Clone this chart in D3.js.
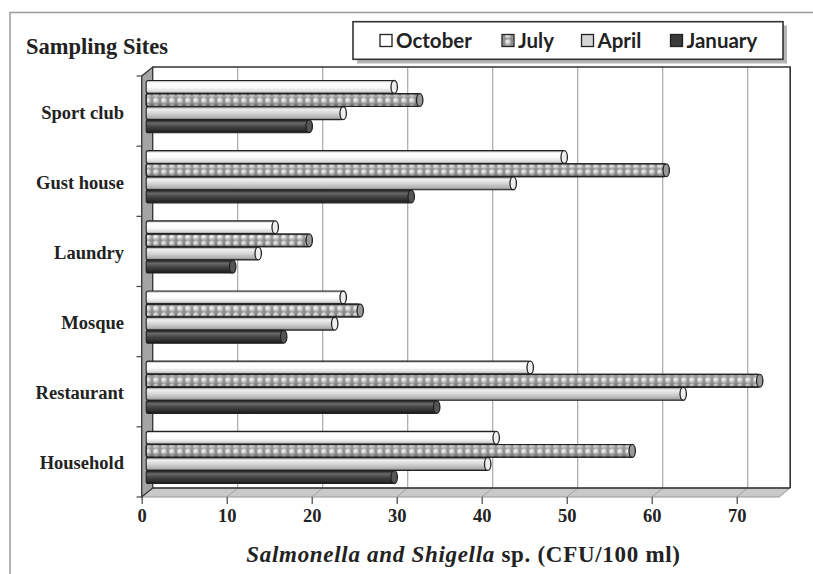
<!DOCTYPE html>
<html><head><meta charset="utf-8">
<script src="https://cdn.jsdelivr.net/npm/d3@7"></script>
<style>body{margin:0;background:#fff}svg{display:block}</style>
</head><body>
<svg id="c" width="813" height="574"></svg>
<script>
const sites = ["Sport club","Gust house","Laundry","Mosque","Restaurant","Household"];
const seriesNames = ["October","July","April","January"];
const october = [30,50,16,24,46,42];
const july    = [33,62,20,26,73,58];
const april   = [24,44,14,23,64,41];
const january = [20,32,11,17,35,30];
const xTicks = [0,10,20,30,40,50,60,70];
const yTitle = "Sampling Sites";
const xTitleItalic = "Salmonella and Shigella";
const xTitleRest = " sp. (CFU/100 ml)";

const seriesValues = {October: october, July: july, April: april, January: january};

const svg = d3.select("#c");
const defs = svg.append("defs");

// figure border
svg.append("path").attr("d","M10,574V12.5H813").attr("fill","none").attr("stroke","#9a9a9a").attr("stroke-width",1.5);

const DX = 11, DY = -9;
const x = d3.scaleLinear().domain([0,75]).range([141.7,779.2]);
const y = d3.scaleBand().domain(sites).range([76,497]);
const sub = d3.scaleBand().domain(seriesNames).range([0,52.5]);

function grad(id, stops){
  const g = defs.append("linearGradient").attr("id",id).attr("x1",0).attr("x2",0).attr("y1",0).attr("y2",1);
  stops.forEach(s=>g.append("stop").attr("offset",s[0]).attr("stop-color",s[1]).attr("stop-opacity",s[2]===undefined?1:s[2]));
}
grad("gOct",[[0,"#9a9a9a"],[0.18,"#ffffff"],[0.55,"#fbfbfb"],[0.85,"#d8d8d8"],[1,"#8a8a8a"]]);
grad("gApr",[[0,"#8c8c8c"],[0.2,"#f0f0f0"],[0.5,"#d6d6d6"],[0.85,"#b0b0b0"],[1,"#707070"]]);
grad("gJan",[[0,"#1c1c1c"],[0.25,"#6a6a6a"],[0.5,"#474747"],[0.85,"#2a2a2a"],[1,"#111"]]);
grad("gJulShade",[[0,"#000",0.4],[0.2,"#fff",0.15],[0.5,"#fff",0],[0.85,"#000",0.12],[1,"#000",0.45]]);
const rg = defs.append("radialGradient").attr("id","dotG").attr("cx","40%").attr("cy","35%").attr("r","60%");
rg.append("stop").attr("offset",0).attr("stop-color","#f8f8f8");
rg.append("stop").attr("offset",1).attr("stop-color","#b0b0b0");
const pat = defs.append("pattern").attr("id","pJul").attr("patternUnits","userSpaceOnUse").attr("width",8).attr("height",6.5);
pat.append("rect").attr("width",8).attr("height",6.5).attr("fill","#8e8e8e");
pat.append("circle").attr("cx",4).attr("cy",3.25).attr("r",3).attr("fill","url(#dotG)");
const fills = {October:"url(#gOct)", July:"url(#pJul)", April:"url(#gApr)", January:"url(#gJan)"};
const legendFill = {October:"#ffffff", July:"url(#pJul)", April:"#d4d4d4", January:"#3a3a3a"};

// back wall
const bx0 = x(0)+DX, bx1 = x(75)+DX, by0 = 76+DY, by1 = 497+DY;
svg.append("rect").attr("x",bx0).attr("y",by0).attr("width",bx1-bx0).attr("height",by1-by0).attr("fill","#fff");
const g = svg.append("g");
xTicks.filter(v=>v>0).forEach(v=>{
  g.append("line").attr("x1",x(v)+DX).attr("x2",x(v)+DX).attr("y1",by0).attr("y2",by1).attr("stroke","#a8a8a8").attr("stroke-width",1.2);
});
// floor
svg.append("polygon").attr("points",[[x(0),497],[x(75),497],[bx1,by1],[bx0,by1]].map(p=>p.join(",")).join(" "))
  .attr("fill","#c9c9c9").attr("stroke","#9a9a9a").attr("stroke-width",1);
xTicks.filter(v=>v>0).forEach(v=>{
  svg.append("line").attr("x1",x(v)+DX).attr("y1",by1).attr("x2",x(v)).attr("y2",497).attr("stroke","#a0a0a0").attr("stroke-width",1);
});
svg.append("line").attr("x1",bx0).attr("x2",bx1).attr("y1",by1).attr("y2",by1).attr("stroke","#333").attr("stroke-width",1.6);
svg.append("path").attr("d",`M${bx0},${by0}H${bx1}V${by1}`).attr("fill","none").attr("stroke","#333").attr("stroke-width",1.6);
// left wall
svg.append("polygon").attr("points",[[x(0),76],[bx0,by0],[bx0,by1],[x(0),497]].map(p=>p.join(",")).join(" "))
  .attr("fill","#a4a4a4").attr("stroke","#333").attr("stroke-width",1.3);

// bars
const bars = svg.append("g");
sites.forEach((s,i)=>{
  seriesNames.forEach(name=>{
    const v = seriesValues[name][i];
    const top = y(s)+4.5+sub(name);
    const h = sub.bandwidth()-0.3;
    const x0 = x(0)+4.5, x1 = x(v)-2.5;
    bars.append("rect").attr("x",x0).attr("y",top).attr("width",x1-x0).attr("height",h)
      .attr("rx",2).attr("fill",fills[name]).attr("stroke","#222").attr("stroke-width",1.1);
    if(name==="July"){
      bars.append("rect").attr("x",x0).attr("y",top).attr("width",x1-x0).attr("height",h)
        .attr("rx",2).attr("fill","url(#gJulShade)").attr("stroke","#222").attr("stroke-width",1.1);
    }
    bars.append("ellipse").attr("cx",x1).attr("cy",top+h/2).attr("rx",3.2).attr("ry",h/2)
      .attr("fill",name==="January"?"#555":(name==="July"?"#999":"#eee")).attr("stroke","#222").attr("stroke-width",1.3);
  });
});

// y axis ticks
const yb = d3.range(sites.length+1).map(k=>76+k*y.step());
yb.forEach(v=>svg.append("line").attr("x1",136.5).attr("x2",x(0)).attr("y1",v).attr("y2",v).attr("stroke","#444").attr("stroke-width",1.2));
svg.append("g").selectAll("text").data(sites).join("text")
  .attr("x",124).attr("y",d=>y(d)+y.bandwidth()/2+1).attr("dy","0.35em").attr("text-anchor","end")
  .attr("font-family","Liberation Serif, serif").attr("font-weight","bold").attr("font-size",18.5).attr("fill","#222").text(d=>d);
svg.append("text").attr("x",26).attr("y",46).attr("dy","0.35em")
  .attr("font-family","Liberation Serif, serif").attr("font-weight","bold").attr("font-size",22.5).attr("fill","#222").text(yTitle);

// x axis
const xa = svg.append("g").attr("transform","translate(0,497)")
  .call(d3.axisBottom(x).tickValues(xTicks).tickSize(7).tickPadding(5).tickFormat(d3.format("d")));
xa.select(".domain").remove();
xa.selectAll(".tick line").attr("stroke","#444").attr("stroke-width",1.2);
xa.selectAll(".tick text").attr("font-family","Liberation Serif, serif").attr("font-weight","bold").attr("font-size",18.5).attr("fill","#222");

// x title
const xt = svg.append("text").attr("x",463.5).attr("y",562).attr("text-anchor","middle")
  .attr("font-family","Liberation Serif, serif").attr("font-weight","bold").attr("font-size",23)
  .attr("letter-spacing",0.7).attr("fill","#222");
xt.append("tspan").attr("font-style","italic").text(xTitleItalic);
xt.append("tspan").text(xTitleRest);

// legend
const lg = svg.append("g");
lg.append("rect").attr("x",357).attr("y",25.5).attr("width",430).attr("height",38).attr("fill","#b5b5b5");
lg.append("rect").attr("x",353).attr("y",21.7).attr("width",430).attr("height",37.6).attr("fill","#fff").attr("stroke","#333").attr("stroke-width",1.6);
const legX = {October:380, July:502, April:581.5, January:670.5};
seriesNames.forEach(name=>{
  lg.append("rect").attr("x",legX[name]).attr("y",34.5).attr("width",12).attr("height",12)
    .attr("fill",legendFill[name]).attr("stroke","#222").attr("stroke-width",1.3);
  lg.append("text").attr("x",legX[name]+16).attr("y",41).attr("dy","0.35em")
    .attr("font-family","Lato, sans-serif").attr("font-weight","bold").attr("font-size",20.5).attr("fill","#222").text(name);
});
</script>
</body></html>
